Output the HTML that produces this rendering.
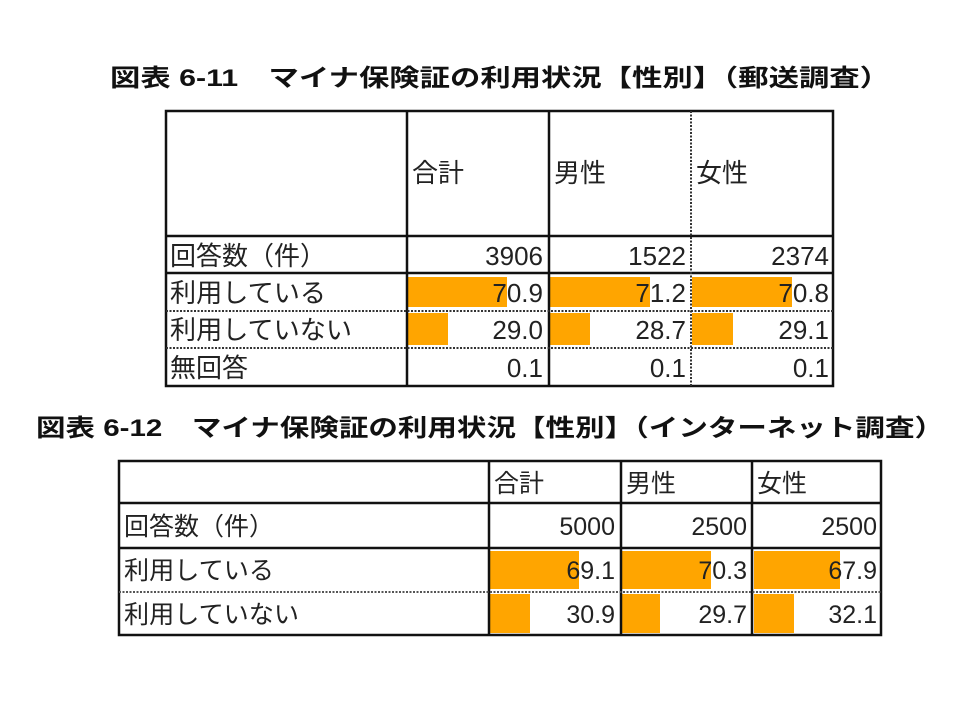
<!DOCTYPE html>
<html><head><meta charset="utf-8"><style>
html,body{margin:0;padding:0;background:#fff;}
svg{display:block;}
text{font-family:"Liberation Sans","Noto Sans CJK JP",sans-serif;fill:#222;}
.t{font-weight:bold;font-size:24px;fill:#111;}
.c{font-size:26px;}
.d{font-size:25px;}
</style></head><body>
<svg width="960" height="720" viewBox="0 0 960 720">
<rect width="960" height="720" fill="#fff"/>
<text class="t" x="110" y="86" textLength="780" lengthAdjust="spacingAndGlyphs">図表 6-11　マイナ保険証の利用状況【性別】（郵送調査）</text>
<text class="t" x="36" y="436" textLength="908" lengthAdjust="spacingAndGlyphs">図表 6-12　マイナ保険証の利用状況【性別】（インターネット調査）</text>

<g fill="#FFA500">
<rect x="408" y="277" width="99" height="30"/>
<rect x="550" y="277" width="100" height="30"/>
<rect x="692" y="277" width="100" height="30"/>
<rect x="408" y="313" width="40" height="32"/>
<rect x="550" y="313" width="40" height="32"/>
<rect x="692" y="313" width="41" height="32"/>
</g>
<g stroke="#111" stroke-width="2.5" fill="none">
<rect x="166" y="111" width="667" height="275"/>
<line x1="407" y1="111" x2="407" y2="386"/>
<line x1="549" y1="111" x2="549" y2="386"/>
<line x1="166" y1="236" x2="833" y2="236"/>
<line x1="166" y1="273" x2="833" y2="273"/>
</g>
<g stroke="#333" stroke-width="2" stroke-dasharray="2,1.5" fill="none">
<line x1="691" y1="111" x2="691" y2="386"/>
<line x1="166" y1="311" x2="833" y2="311"/>
<line x1="166" y1="348" x2="833" y2="348"/>
</g>
<text class="c" x="412" y="182" textLength="52" lengthAdjust="spacingAndGlyphs">合計</text>
<text class="c" x="554" y="182" textLength="52" lengthAdjust="spacingAndGlyphs">男性</text>
<text class="c" x="696" y="182" textLength="52" lengthAdjust="spacingAndGlyphs">女性</text>
<text class="c" x="170" y="265" textLength="156" lengthAdjust="spacingAndGlyphs">回答数（件）</text>
<text class="c" x="170" y="302" textLength="156" lengthAdjust="spacingAndGlyphs">利用している</text>
<text class="c" x="170" y="339" textLength="182" lengthAdjust="spacingAndGlyphs">利用していない</text>
<text class="c" x="170" y="377" textLength="78" lengthAdjust="spacingAndGlyphs">無回答</text>
<g text-anchor="end">
<text class="c" x="543" y="265">3906</text><text class="c" x="686" y="265">1522</text><text class="c" x="829" y="265">2374</text>
<text class="c" x="543" y="302">70.9</text><text class="c" x="686" y="302">71.2</text><text class="c" x="829" y="302">70.8</text>
<text class="c" x="543" y="339">29.0</text><text class="c" x="686" y="339">28.7</text><text class="c" x="829" y="339">29.1</text>
<text class="c" x="543" y="377">0.1</text><text class="c" x="686" y="377">0.1</text><text class="c" x="829" y="377">0.1</text>
</g>

<g fill="#FFA500">
<rect x="490" y="551" width="89" height="38"/>
<rect x="622" y="551" width="89" height="38"/>
<rect x="754" y="551" width="86" height="38"/>
<rect x="490" y="594" width="40" height="39"/>
<rect x="622" y="594" width="38" height="39"/>
<rect x="754" y="594" width="40" height="39"/>
</g>
<g stroke="#111" stroke-width="2.5" fill="none">
<rect x="119" y="461" width="762" height="174"/>
<line x1="489" y1="461" x2="489" y2="635"/>
<line x1="621" y1="461" x2="621" y2="635"/>
<line x1="752" y1="461" x2="752" y2="635"/>
<line x1="119" y1="503" x2="881" y2="503"/>
<line x1="119" y1="548" x2="881" y2="548"/>
</g>
<g stroke="#555" stroke-width="2" stroke-dasharray="2,1.5" fill="none">
<line x1="119" y1="592" x2="881" y2="592"/>
</g>
<text class="d" x="494" y="492" textLength="50" lengthAdjust="spacingAndGlyphs">合計</text>
<text class="d" x="626" y="492" textLength="50" lengthAdjust="spacingAndGlyphs">男性</text>
<text class="d" x="757" y="492" textLength="50" lengthAdjust="spacingAndGlyphs">女性</text>
<text class="d" x="124" y="535" textLength="150" lengthAdjust="spacingAndGlyphs">回答数（件）</text>
<text class="d" x="124" y="579" textLength="150" lengthAdjust="spacingAndGlyphs">利用している</text>
<text class="d" x="124" y="623" textLength="175" lengthAdjust="spacingAndGlyphs">利用していない</text>
<g text-anchor="end">
<text class="d" x="615" y="535">5000</text><text class="d" x="747" y="535">2500</text><text class="d" x="877" y="535">2500</text>
<text class="d" x="615" y="579">69.1</text><text class="d" x="747" y="579">70.3</text><text class="d" x="877" y="579">67.9</text>
<text class="d" x="615" y="623">30.9</text><text class="d" x="747" y="623">29.7</text><text class="d" x="877" y="623">32.1</text>
</g>
</svg>
</body></html>
